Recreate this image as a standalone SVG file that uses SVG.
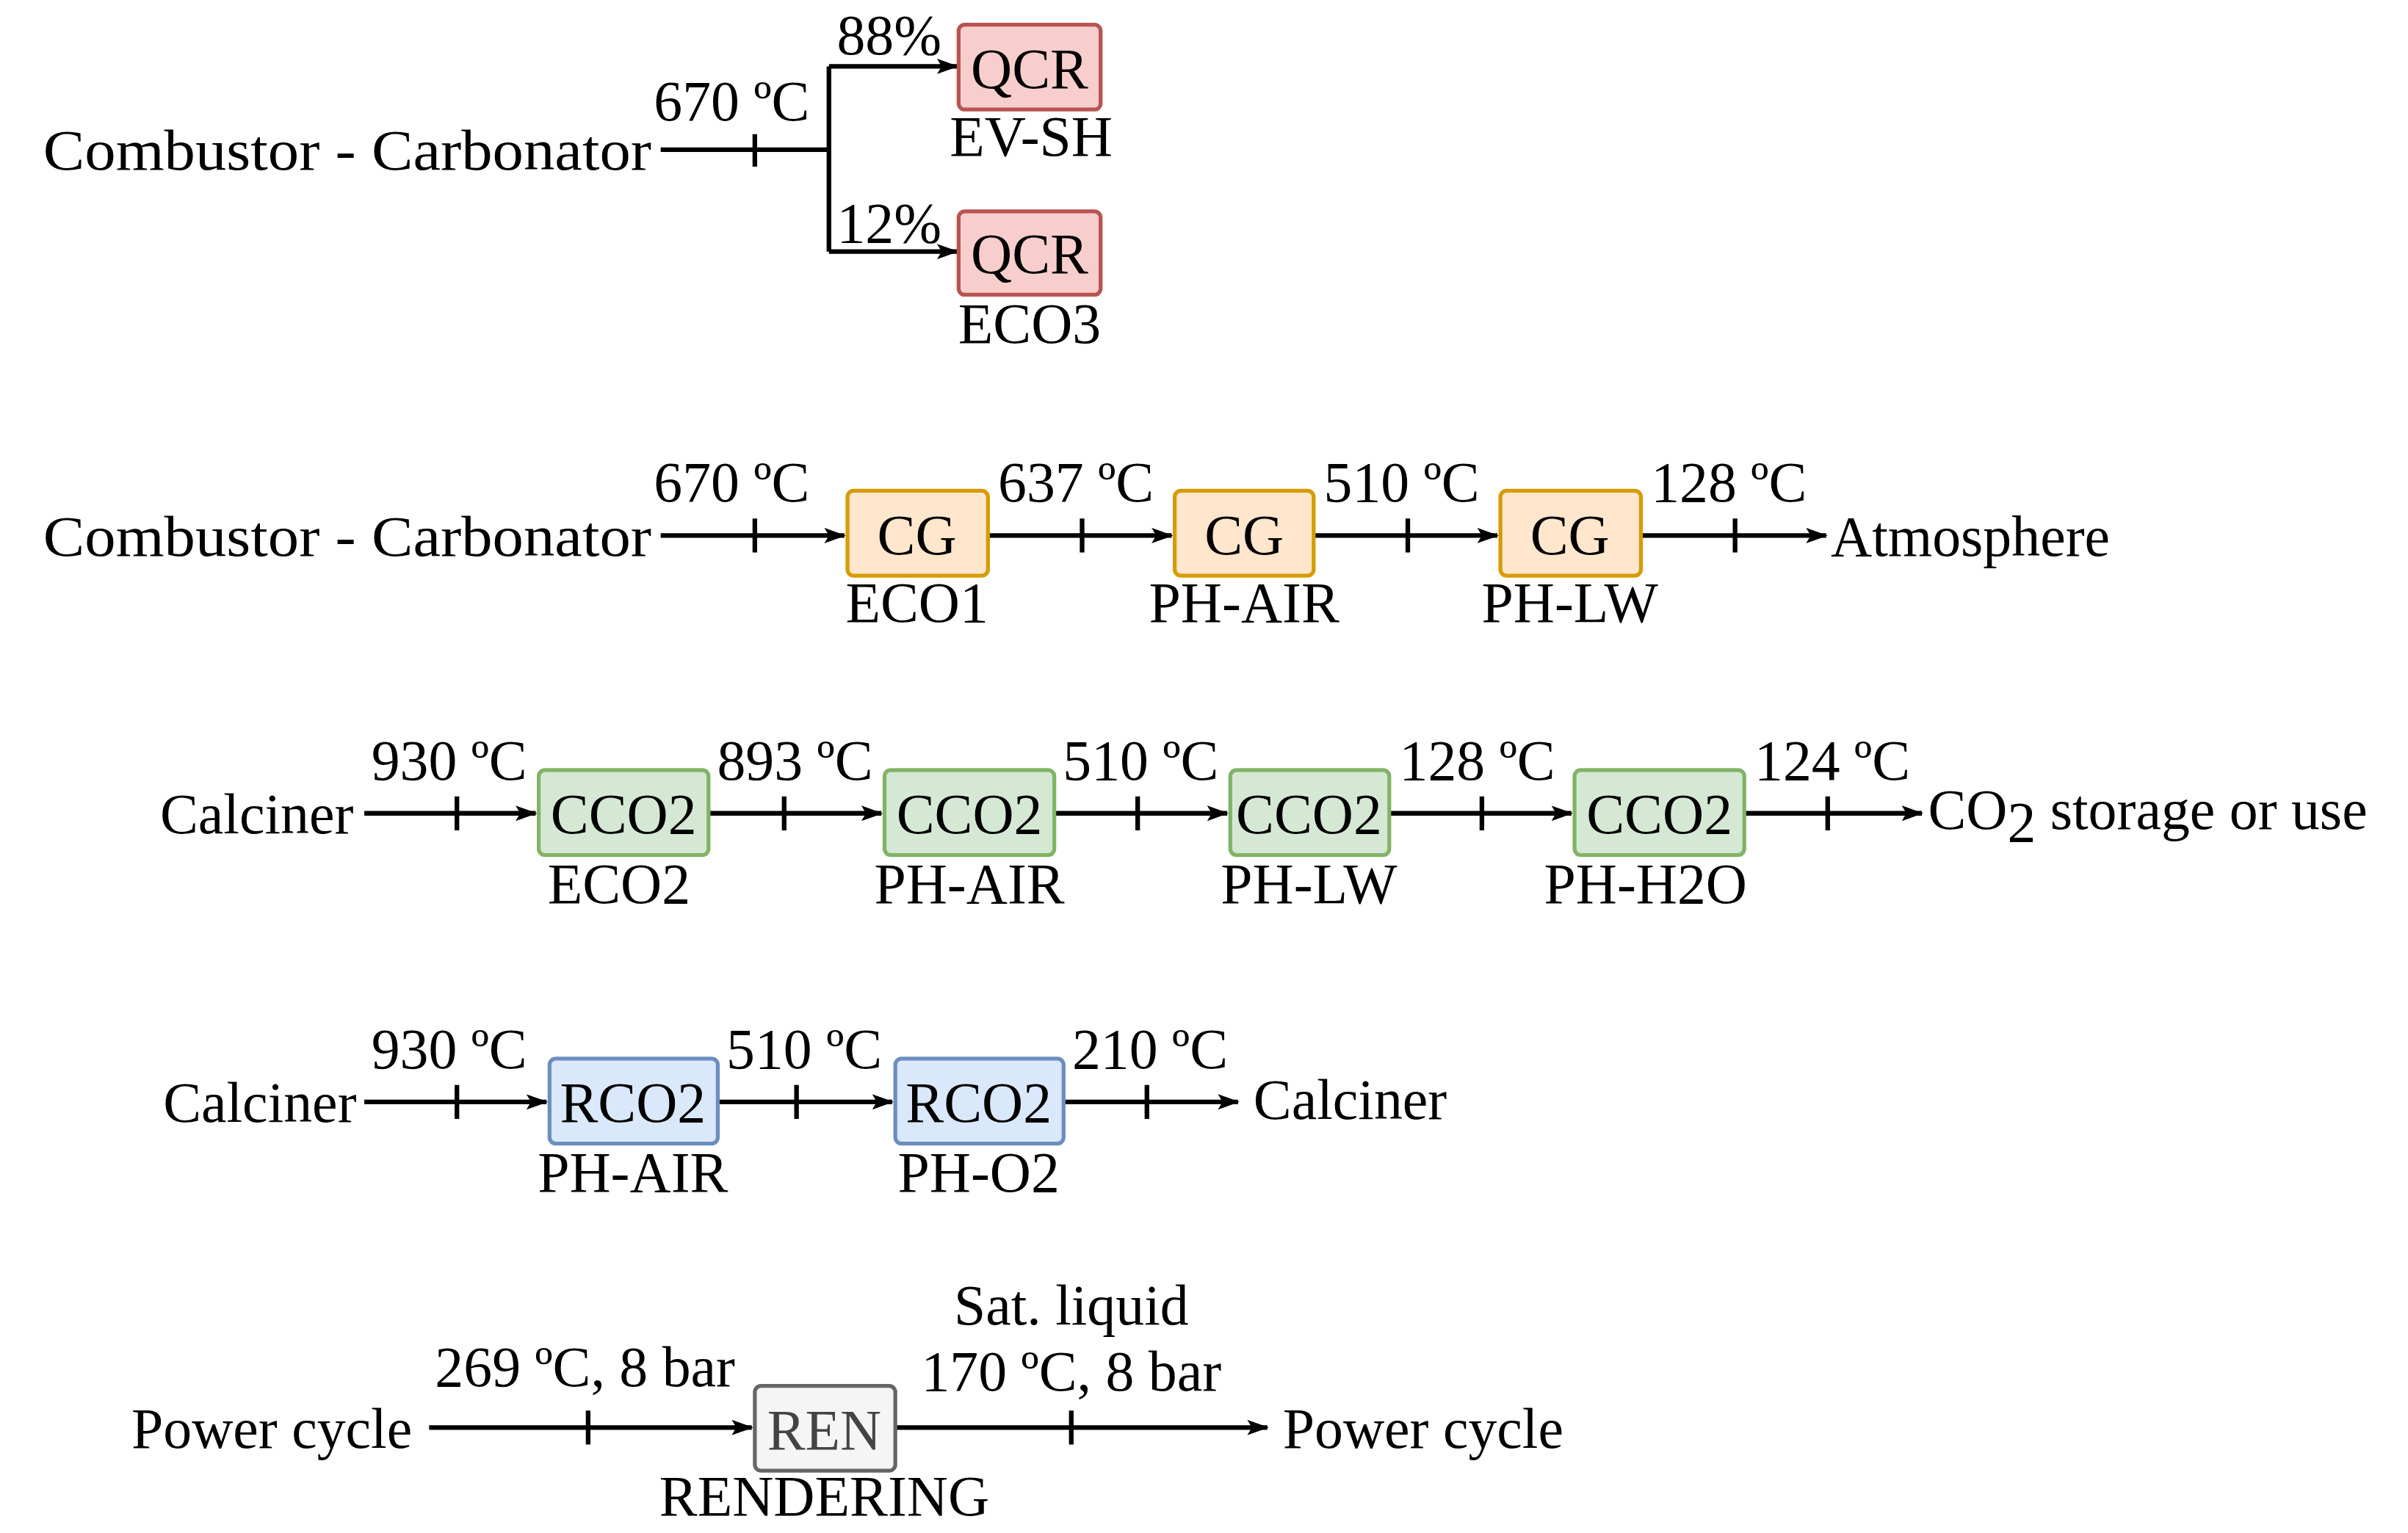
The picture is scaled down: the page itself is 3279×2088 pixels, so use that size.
<svg xmlns="http://www.w3.org/2000/svg" width="3279" height="2088" viewBox="0 0 3279 2088">
<style>
text{font-family:"Liberation Serif","DejaVu Serif",serif;font-size:37px;fill:#000}
.m{text-anchor:middle}.e{text-anchor:end}
.ln{stroke:#000;stroke-width:3;fill:none}
.r{fill:#f8cecc;stroke:#b85450;stroke-width:2.5}
.o{fill:#ffe6cc;stroke:#d79b00;stroke-width:2.5}
.g{fill:#d5e8d4;stroke:#82b366;stroke-width:2.5}
.b{fill:#dae8fc;stroke:#6c8ebf;stroke-width:2.5}
.w{fill:#f5f5f5;stroke:#666;stroke-width:2.5}
</style>
<defs><marker id="a" markerWidth="14" markerHeight="10" refX="13" refY="5" orient="auto" markerUnits="userSpaceOnUse"><path d="M0,0L14,5L0,10L3,5z" fill="#000"/></marker></defs>
<rect width="3279" height="2088" fill="#fff"/>
<g transform="scale(2.102)">
<g id="labels">
<text x="422" y="110" class="e" textLength="394" lengthAdjust="spacingAndGlyphs">Combustor - Carbonator</text>
<text x="474" y="78" class="m">670 ºC</text>
<text x="576" y="35" class="m">88%</text>
<text x="576" y="157" class="m">12%</text>
<text x="422" y="360" class="e" textLength="394" lengthAdjust="spacingAndGlyphs">Combustor - Carbonator</text>
<text x="474" y="325" class="m">670 ºC</text><text x="697" y="325" class="m">637 ºC</text><text x="908" y="325" class="m">510 ºC</text><text x="1120" y="325" class="m">128 ºC</text>
<text x="1186" y="360">Atmosphere</text>
<text x="229" y="540" class="e">Calciner</text>
<text x="291" y="505" class="m">930 ºC</text><text x="515" y="505" class="m">893 ºC</text><text x="739" y="505" class="m">510 ºC</text><text x="957" y="505" class="m">128 ºC</text><text x="1187" y="505" class="m">124 ºC</text>
<text x="1249" y="537">CO<tspan dy="8">2</tspan><tspan dy="-8"> storage or use</tspan></text>
<text x="231" y="727" class="e">Calciner</text>
<text x="291" y="692" class="m">930 ºC</text><text x="521" y="692" class="m">510 ºC</text><text x="745" y="692" class="m">210 ºC</text>
<text x="812" y="725">Calciner</text>
<text x="267" y="938" class="e">Power cycle</text>
<text x="379" y="898" class="m">269 ºC, 8 bar</text>
<text x="694" y="858" class="m">Sat. liquid</text>
<text x="694" y="901" class="m">170 ºC, 8 bar</text>
<text x="831" y="938">Power cycle</text>
</g>
<g id="connectors" class="ln">
<path d="M428,97H537M489,87V108M537,43V163"/>
<path d="M537,43H620" marker-end="url(#a)"/><path d="M537,163H620" marker-end="url(#a)"/>
<path d="M428,347H547" marker-end="url(#a)"/><path d="M640,347H759" marker-end="url(#a)"/><path d="M851,347H970" marker-end="url(#a)"/><path d="M1063,347H1183" marker-end="url(#a)"/>
<path d="M489,336V358M701,336V358M912,336V358M1124,336V358"/>
<path d="M236,527H347" marker-end="url(#a)"/><path d="M459,527H571" marker-end="url(#a)"/><path d="M683,527H795" marker-end="url(#a)"/><path d="M900,527H1018" marker-end="url(#a)"/><path d="M1130,527H1245" marker-end="url(#a)"/>
<path d="M296,516V538M508,516V538M737,516V538M960,516V538M1184,516V538"/>
<path d="M236,714H354" marker-end="url(#a)"/><path d="M465,714H578" marker-end="url(#a)"/><path d="M689,714H802" marker-end="url(#a)"/>
<path d="M296,703V725M516,703V725M743,703V725"/>
<path d="M278,925H487" marker-end="url(#a)"/><path d="M580,925H821" marker-end="url(#a)"/>
<path d="M381,914V936M694,914V936"/>
</g>
<g id="qcr1"><rect class="r" x="621" y="16" width="92" height="55" rx="4"/><text x="667" y="57" class="m">QCR</text><text x="668" y="101" class="m">EV-SH</text></g>
<g id="qcr2"><rect class="r" x="621" y="137" width="92" height="54" rx="4"/><text x="667" y="177" class="m">QCR</text><text x="667" y="222" class="m">ECO3</text></g>
<g id="cg1"><rect class="o" x="549" y="318" width="91" height="55" rx="4"/><text x="594" y="359" class="m">CG</text><text x="594" y="403" class="m">ECO1</text></g>
<g id="cg2"><rect class="o" x="761" y="318" width="90" height="55" rx="4"/><text x="806" y="359" class="m">CG</text><text x="806" y="403" class="m">PH-AIR</text></g>
<g id="cg3"><rect class="o" x="972" y="318" width="91" height="55" rx="4"/><text x="1017" y="359" class="m">CG</text><text x="1017" y="403" class="m">PH-LW</text></g>
<g id="cco2a"><rect class="g" x="349" y="499" width="110" height="55" rx="4"/><text x="404" y="540" class="m">CCO2</text><text x="401" y="585" class="m">ECO2</text></g>
<g id="cco2b"><rect class="g" x="573" y="499" width="110" height="55" rx="4"/><text x="628" y="540" class="m">CCO2</text><text x="628" y="585" class="m">PH-AIR</text></g>
<g id="cco2c"><rect class="g" x="797" y="499" width="103" height="55" rx="4"/><text x="848" y="540" class="m">CCO2</text><text x="848" y="585" class="m">PH-LW</text></g>
<g id="cco2d"><rect class="g" x="1020" y="499" width="110" height="55" rx="4"/><text x="1075" y="540" class="m">CCO2</text><text x="1066" y="585" class="m">PH-H2O</text></g>
<g id="rco2a"><rect class="b" x="356" y="686" width="109" height="55" rx="4"/><text x="410" y="727" class="m">RCO2</text><text x="410" y="772" class="m">PH-AIR</text></g>
<g id="rco2b"><rect class="b" x="580" y="686" width="109" height="55" rx="4"/><text x="634" y="727" class="m">RCO2</text><text x="634" y="772" class="m">PH-O2</text></g>
<g id="ren"><rect class="w" x="489" y="898" width="91" height="55" rx="4"/><text x="534" y="939" class="m" style="fill:#444">REN</text><text x="534" y="982" class="m">RENDERING</text></g>
</g>
</svg>
